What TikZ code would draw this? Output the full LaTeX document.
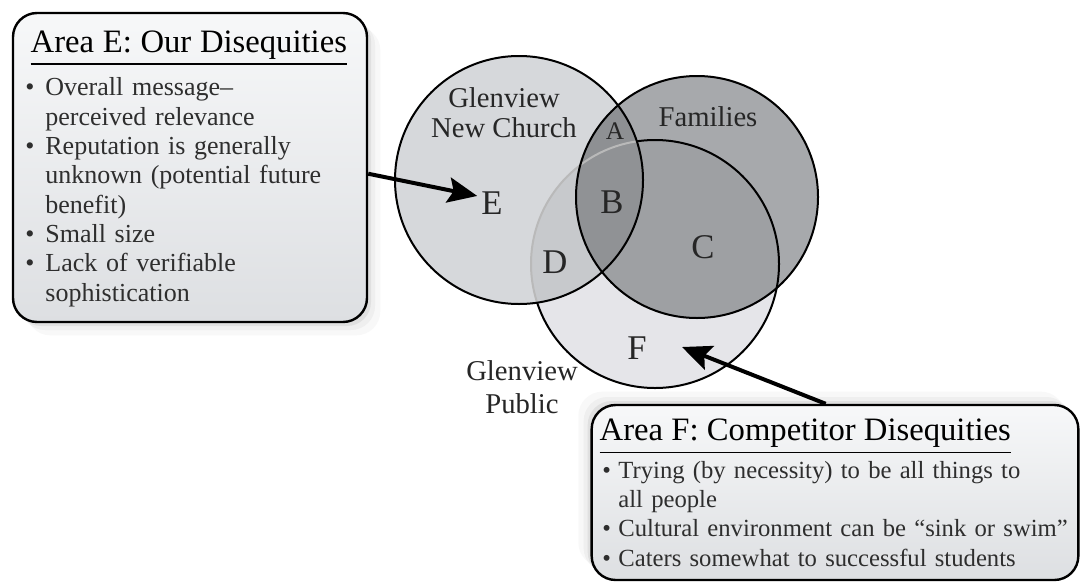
\documentclass[tikz,border=0pt]{standalone}
\usepackage{amsmath}
\usepackage{fontspec}
\setmainfont{Liberation Serif}
\usepackage{tikz}
\usetikzlibrary{positioning,shadows,arrows.meta}

\definecolor{churchgray}{HTML}{D6D8DB}
\definecolor{famgray}{HTML}{A7A9AC}
\definecolor{pubgray}{HTML}{E5E5E9}
\definecolor{areaAgray}{HTML}{8E9093}
\definecolor{areaBgray}{HTML}{909295}
\definecolor{areaCgray}{HTML}{9EA0A3}
\definecolor{areaDgray}{HTML}{C7C9CC}
\definecolor{boxtop}{HTML}{F7F8F9}
\definecolor{boxbottom}{HTML}{DDDFE2}
\definecolor{textgray}{HTML}{2E2E2E}

\newcommand{\bulletline}[2][17pt]{\par\hangindent=#1\hangafter=1\noindent\makebox[#1][l]{\kern2pt\textbullet}#2\par}
\newcommand{\titlefont}{\fontsize{24.5}{27}\selectfont}
\newcommand{\bodyfont}{\fontsize{19.5}{22}\selectfont}

\tikzset{
  areabox/.style={draw, line width=1.8pt, rounded corners=18pt, top color=boxtop, bottom color=boxbottom},
  softshadow/.style n args={2}{
    drop shadow={shadow xshift=#1*3pt, shadow yshift=#2*3pt, opacity=.12},
    drop shadow={shadow xshift=#1*6pt, shadow yshift=#2*6pt, opacity=.08},
    drop shadow={shadow xshift=#1*10pt, shadow yshift=#2*10pt, opacity=.05}},
  areatext/.style={inner sep=0pt, align=left, text=textgray, font=\bodyfont},
  venntext/.style={align=center, text=black!85, font=\fontsize{21.5}{22.5}\selectfont},
  regionlabel/.style={inner sep=0pt, text=black!85, font=\fontsize{26}{26}\selectfont},
  bigarrow/.style={line width=3pt, -{Stealth[length=22pt,width=19pt,inset=4pt]}},
  ring/.style={line width=1.5pt},
}

\begin{document}
\begin{tikzpicture}[x=0.75pt, y=-0.75pt]
    \useasboundingbox[fill=white] (0,0) rectangle (1081,582);

    % the three circles
    \coordinate (church) at (519,180);
    \coordinate (fam) at (697,197);
    \coordinate (pub) at (655,264);
    \fill[famgray] (fam) circle (90.75pt);
    \fill[pubgray] (pub) circle (93pt);
    \begin{scope}
        \clip (fam) circle (90.75pt);
        \fill[areaCgray] (pub) circle (93pt);
    \end{scope}
    \fill[churchgray] (church) circle (93pt);
    \begin{scope}
        \clip (church) circle (93pt);
        \fill[areaAgray] (fam) circle (90.75pt);
        \fill[areaDgray] (pub) circle (93pt);
        \begin{scope}
            \clip (pub) circle (93pt);
            \fill[areaBgray] (fam) circle (90.75pt);
        \end{scope}
        \draw[ring, draw=gray!55] (pub) circle (93pt);
    \end{scope}
    \begin{scope}[even odd rule]
        \clip (0,0) rectangle (1081,582) (church) circle (93pt);
        \draw[ring] (pub) circle (93pt);
    \end{scope}
    \draw[ring] (church) circle (93pt);
    \draw[ring] (fam) circle (90.75pt);

    % names and regions
    \node[venntext] (churchname) at (504,113) {Glenview\\New Church};
    \node[venntext] (famname) at (708,117) {Families};
    \node[venntext, font=\fontsize{21.5}{24.5}\selectfont] (pubname) at (522,387) {Glenview\\Public};
    \node[regionlabel, font=\fontsize{19}{19}\selectfont] (labA) at (615,131) {A};
    \foreach \name/\x/\y in {B/612/202, C/703/247, D/555/262, E/492/203, F/637/348}
        \node[regionlabel] (lab\name) at (\x,\y) {\name};
    \coordinate (tipF) at (682,347);

    % boxes
    \node[areabox, softshadow={1}{-1},
        minimum width=265.5pt, minimum height=231.75pt] (areaE) at (190,167.5) {};
    \node[areatext, text width=255pt, below right=14pt and 8pt of areaE.north west] (textE) {%
        {\titlefont\color{black}\hspace*{6pt}\underline{Area E: Our Disequities}\par}
        \vspace{8pt}
        \bulletline{Overall message--\newline perceived relevance}
        \bulletline{Reputation is generally\newline unknown (potential future\newline benefit)}
        \bulletline{Small size}
        \bulletline{Lack of verifiable\newline sophistication}};

    \node[areabox, softshadow={-1}{1},
        minimum width=365pt, minimum height=131.25pt] (areaF) at (835,492.5) {};
    \node[areatext, font=\fontsize{18.5}{22}\selectfont, text width=358pt,
        below right=11.25pt and 6.75pt of areaF.north west] (textF) {%
        {\titlefont\color{black}\underline{Area F: Competitor Disequities}\par}
        \vspace{4pt}
        \bulletline[14pt]{Trying (by necessity) to be all things to\newline all people}
        \bulletline[14pt]{Cultural environment can be ``sink or swim''}
        \bulletline[14pt]{Caters somewhat to successful students}};

    % arrows
    \draw[bigarrow, shorten >=3pt] (areaE.-2) -- (labE.150);
    \draw[bigarrow] (areaF.96) -- (tipF);
\end{tikzpicture}
\end{document}
